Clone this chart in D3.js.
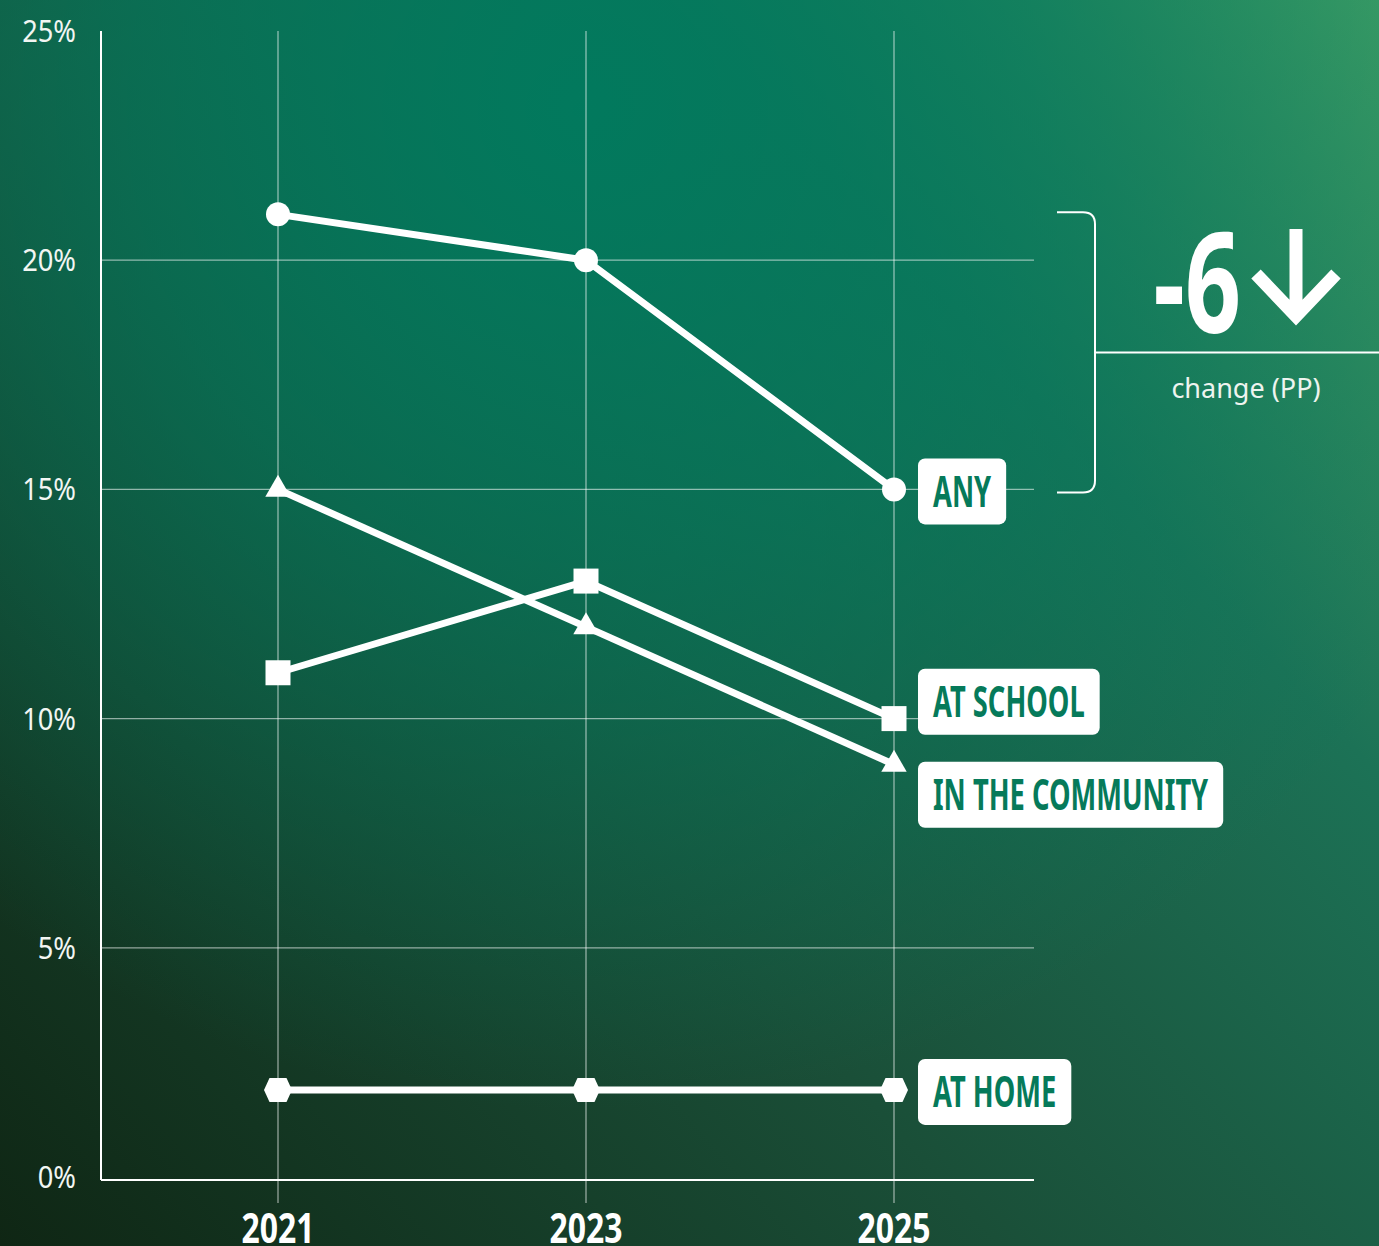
<!DOCTYPE html>
<html>
<head>
<meta charset="utf-8">
<script src="https://cdn.jsdelivr.net/npm/d3@7"></script>
<style>
  html, body { margin: 0; padding: 0; background: #145a42; }
  svg { display: block; }
</style>
</head>
<body>
<svg id="chart" width="1379" height="1246"></svg>
<script>
// ---- data ----
const years = ["2021", "2023", "2025"];
const seriesNames = ["ANY", "AT SCHOOL", "IN THE COMMUNITY", "AT HOME"];
const anyValues = [21, 20, 15];
const schoolValues = [11, 13, 10];
const communityValues = [15, 12, 9];
const homeValues = [1.9, 1.9, 1.9];
const yTicks = [0, 5, 10, 15, 20, 25];
const changeLabel = "change (PP)";

// ---- setup ----
const W = 1379, H = 1246;
const svg = d3.select("#chart");
const defs = svg.append("defs");

const lg = defs.append("linearGradient").attr("id", "bgLin")
  .attr("gradientUnits", "userSpaceOnUse")
  .attr("x1", 0).attr("y1", H).attr("x2", W).attr("y2", 0);
[[0, "#0f2614"], [0.4, "#1a4f38"], [0.72, "#1c7256"], [1, "#43a066"]]
  .forEach(([o, c]) => lg.append("stop").attr("offset", o).attr("stop-color", c));

const rg = defs.append("radialGradient").attr("id", "bgRad")
  .attr("gradientUnits", "userSpaceOnUse")
  .attr("cx", 580).attr("cy", 110).attr("r", 1000);
[[0, "#007a5e", 0.95], [0.45, "#007a5e", 0.6], [1, "#007a5e", 0]]
  .forEach(([o, c, a]) => rg.append("stop").attr("offset", o).attr("stop-color", c).attr("stop-opacity", a));

svg.append("rect").attr("width", W).attr("height", H).attr("fill", "url(#bgLin)");
svg.append("rect").attr("width", W).attr("height", H).attr("fill", "url(#bgRad)");

const x = d3.scalePoint().domain(years).range([278, 894]);
const y = d3.scaleLinear().domain([0, 25]).range([1177, 31]);
const plotLeft = 101, plotRight = 1034;

// gridlines
const grid = svg.append("g");
grid.selectAll("line.h").data(yTicks.filter(t => t > 0 && t < 25)).join("line")
  .attr("x1", plotLeft).attr("x2", plotRight)
  .attr("y1", d => y(d)).attr("y2", d => y(d))
  .attr("stroke", "rgba(255,255,255,0.55)").attr("stroke-width", 1.3);
grid.selectAll("line.v").data(years).join("line")
  .attr("x1", d => x(d)).attr("x2", d => x(d))
  .attr("y1", y(25)).attr("y2", y(0) + 26)
  .attr("stroke", "rgba(255,255,255,0.55)").attr("stroke-width", 1.3);

// axes lines
svg.append("line").attr("x1", plotLeft).attr("x2", plotLeft)
  .attr("y1", y(25)).attr("y2", y(0) + 3)
  .attr("stroke", "#fff").attr("stroke-width", 2);
svg.append("line").attr("x1", plotLeft).attr("x2", plotRight)
  .attr("y1", y(0) + 3).attr("y2", y(0) + 3)
  .attr("stroke", "#fff").attr("stroke-width", 2);

// y tick labels
svg.append("g").selectAll("text").data(yTicks).join("text")
  .attr("transform", d => `translate(76,${y(d) + 11}) scale(0.88,1)`)
  .attr("text-anchor", "end")
  .attr("font-family", "'Noto Sans', sans-serif")
  .attr("font-size", 31)
  .attr("fill", "#f2f6f3")
  .text(d => d + "%");

// x tick labels
svg.append("g").selectAll("text").data(years).join("text")
  .attr("transform", d => `translate(${x(d)},1243) scale(0.76,1)`)
  .attr("text-anchor", "middle")
  .attr("font-family", "'Noto Sans', sans-serif")
  .attr("font-weight", 700)
  .attr("font-size", 42)
  .attr("fill", "#fff")
  .text(d => d);

// hexagon symbol
const symbolHex = {
  draw(ctx, size) {
    const s = Math.sqrt(size) / 26;
    const hw = 14 * s, fw = 8.5 * s, hh = 12 * s;
    ctx.moveTo(-hw, 0);
    ctx.lineTo(-fw, -hh);
    ctx.lineTo(fw, -hh);
    ctx.lineTo(hw, 0);
    ctx.lineTo(fw, hh);
    ctx.lineTo(-fw, hh);
    ctx.closePath();
  }
};

const series = [
  { name: seriesNames[0], values: anyValues, symbol: d3.symbolCircle, size: Math.PI * 144 },
  { name: seriesNames[1], values: schoolValues, symbol: d3.symbolSquare, size: 625 },
  { name: seriesNames[2], values: communityValues, symbol: d3.symbolTriangle, size: 280 },
  { name: seriesNames[3], values: homeValues, symbol: symbolHex, size: 676 }
];

const line = d3.line().x((d, i) => x(years[i])).y(d => y(d));

const sg = svg.append("g");
series.forEach(s => {
  sg.append("path").attr("d", line(s.values))
    .attr("fill", "none").attr("stroke", "#fff").attr("stroke-width", 7)
    .attr("stroke-linejoin", "round");
});
series.forEach(s => {
  sg.selectAll(null).data(s.values).join("path")
    .attr("transform", (d, i) => `translate(${x(years[i])},${y(d)})`)
    .attr("d", d3.symbol().type(s.symbol).size(s.size)())
    .attr("fill", "#fff");
});

// end labels with simple collision resolution
const boxH = 66, gap = 27, minSep = boxH + gap;
const labels = series.map(s => ({ name: s.name, cy: y(s.values[s.values.length - 1]) }))
  .sort((a, b) => a.cy - b.cy);
for (let iter = 0; iter < 20; iter++) {
  for (let i = 1; i < labels.length; i++) {
    const d = labels[i].cy - labels[i - 1].cy;
    if (d < minSep) {
      const need = minSep - d;
      labels[i - 1].cy -= need * 0.4;
      labels[i].cy += need * 0.6;
    }
  }
}
const textScale = 0.635;
const lblG = svg.append("g");
labels.forEach(l => {
  const g = lblG.append("g").attr("transform", `translate(918,${l.cy + 2 - boxH / 2})`);
  const rect = g.append("rect").attr("height", boxH).attr("rx", 7).attr("fill", "#fff");
  const t = g.append("text")
    .attr("transform", `translate(15,${boxH / 2 + 15.5}) scale(${textScale},1)`)
    .attr("font-family", "'Noto Sans', sans-serif")
    .attr("font-weight", 700)
    .attr("font-size", 43)
    .attr("fill", "#067a5a")
    .text(l.name);
  const w = t.node().getComputedTextLength() * textScale;
  rect.attr("width", w + 30);
});

// change annotation
const change = anyValues[anyValues.length - 1] - anyValues[0];
const yTop = y(anyValues[0]) - 2, yBot = y(anyValues[anyValues.length - 1]) + 3;
const bx0 = 1057, bx1 = 1095, r = 12;
svg.append("path")
  .attr("d", `M${bx0},${yTop} H${bx1 - r} Q${bx1},${yTop} ${bx1},${yTop + r} V${yBot - r} Q${bx1},${yBot} ${bx1 - r},${yBot} H${bx0}`)
  .attr("fill", "none").attr("stroke", "#fff").attr("stroke-width", 2);
const midY = (yTop + yBot) / 2;
svg.append("line").attr("x1", bx1).attr("x2", W).attr("y1", midY).attr("y2", midY)
  .attr("stroke", "#fff").attr("stroke-width", 2);

svg.append("text")
  .attr("transform", `translate(1241,333) scale(0.7,1)`)
  .attr("text-anchor", "end")
  .attr("font-family", "'Noto Sans', sans-serif")
  .attr("font-weight", 700)
  .attr("font-size", 140)
  .attr("fill", "#fff")
  .text(String(change).replace("−", "-"));

// down arrow
svg.append("path")
  .attr("d", "M1296,229 V318 M1256,274 L1296,316 L1336,274")
  .attr("fill", "none").attr("stroke", "#fff").attr("stroke-width", 13)
  .attr("stroke-linejoin", "miter").attr("stroke-linecap", "butt");

svg.append("text")
  .attr("x", 1246).attr("y", 398)
  .attr("text-anchor", "middle")
  .attr("font-family", "'Noto Sans', sans-serif")
  .attr("font-size", 27)
  .attr("fill", "#eef4ef")
  .text(changeLabel);
</script>
</body>
</html>
